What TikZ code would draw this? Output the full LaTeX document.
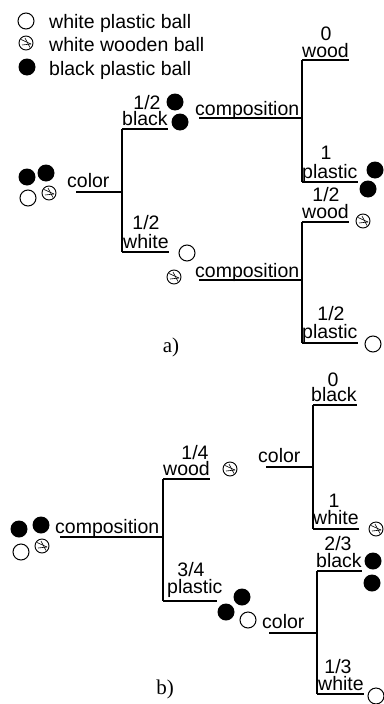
\documentclass[tikz,border=0pt]{standalone}
\usepackage{fontspec}
\setmainfont{Liberation Sans}
\newfontfamily\serifface{Liberation Serif}
\begin{document}
\begin{tikzpicture}[x=1pt,y=-1pt,
  lbl/.style={inner sep=0pt, font=\fontsize{19.5}{20}\selectfont},
  captxt/.style={inner sep=0pt, font=\serifface\fontsize{21}{22}\selectfont},
  br/.style={line width=1.2pt},
  bb/.style={circle, fill=black, minimum size=17pt, inner sep=0pt},
  wb/.style={circle, draw, line width=1pt, fill=white, minimum size=16pt, inner sep=0pt},
  wd/.style={circle, draw, line width=0.9pt, fill=white, minimum size=14pt, inner sep=0pt,
    path picture={
      \draw[line width=0.6pt] ([shift={(-5pt,3.5pt)}]path picture bounding box.center) -- ([shift={(5pt,-1pt)}]path picture bounding box.center);
      \draw[line width=0.6pt] ([shift={(-4pt,-2pt)}]path picture bounding box.center) -- ([shift={(5pt,-1pt)}]path picture bounding box.center);
      \draw[line width=0.6pt] ([shift={(-1pt,5pt)}]path picture bounding box.center) -- ([shift={(4pt,-4.5pt)}]path picture bounding box.center);
    }}
]
\useasboundingbox (0,0) rectangle (383,704);

% legend
\node[wb] (lw) at (26,21) {};
\node[lbl,anchor=base west] (lwt) at (49,28) {white plastic ball};
\node[wd] (ld) at (26,43) {};
\node[lbl,anchor=base west] (ldt) at (49,51) {white wooden ball};
\node[bb] (lb) at (27,67) {};
\node[lbl,anchor=base west] (lbt) at (49,75) {black plastic ball};

% ---------------- part a ----------------
\node[bb] (ra1) at (27,177) {};
\node[bb] (ra2) at (46,173) {};
\node[wb] (ra3) at (28,198) {};
\node[wd] (ra4) at (49,193) {};
\node[lbl,anchor=base west] (colA) at (67,187) {color};
\coordinate (colAs) at (76,192);
\coordinate (jA) at (122,192);
\coordinate (jAt) at (122,129);
\coordinate (jAb) at (122,252);
\draw[br] (colAs) -- (jA);
\draw[br] (jAt) -- (jAb);

\node[lbl,anchor=base west] (blkA) at (122,125) {black};
\node[lbl,anchor=base] (pblkA) at (147,109) {1/2};
\draw[br] (jAt) -- (jAt -| blkA.east);
\node[bb] (bA1) at (175,102) {};
\node[bb] (bA2) at (180,122) {};

\node[lbl,anchor=base west] (whA) at (123,248) {white};
\node[lbl,anchor=base] (pwhA) at (146,229) {1/2};
\draw[br] (jAb) -- (jAb -| whA.east);
\node[wb] (wA1) at (187,253) {};
\node[wd] (wA2) at (174,277) {};

% upper composition
\node[lbl,anchor=base west] (cmpA1) at (195,115) {composition};
\coordinate (cmpA1s) at (199,118);
\coordinate (jB) at (302,118);
\coordinate (jBt) at (302,60);
\coordinate (jBb) at (302,182);
\draw[br] (cmpA1s) -- (jB);
\draw[br] (jBt) -- (jBb);
\node[lbl,anchor=base west] (wdB) at (302,57) {wood};
\node[lbl,anchor=base] (pwdB) at (326,40) {0};
\draw[br] (jBt) -- (jBt -| wdB.east);
\node[lbl,anchor=base west] (plB) at (302,178) {plastic};
\node[lbl,anchor=base] (pplB) at (326,159) {1};
\draw[br] (jBb) -- (jBb -| plB.east);
\node[bb] (bB1) at (375,170) {};
\node[bb] (bB2) at (368,189) {};

% lower composition
\node[lbl,anchor=base west] (cmpA2) at (195,277) {composition};
\coordinate (cmpA2s) at (199,280);
\coordinate (jC) at (302,280);
\coordinate (jCt) at (302,222);
\coordinate (jCb) at (302,343);
\draw[br] (cmpA2s) -- (jC);
\draw[br] (jCt) -- (jCb);
\node[lbl,anchor=base west] (wdC) at (302,218) {wood};
\node[lbl,anchor=base] (pwdC) at (326,201) {1/2};
\draw[br] (jCt) -- (jCt -| wdC.east);
\node[wd] (dC) at (363,221) {};
\node[lbl,anchor=base west] (plC) at (302,338) {plastic};
\node[lbl,anchor=base] (pplC) at (331,320) {1/2};
\draw[br] (jCb) -- (jCb -| plC.east);
\node[wb] (wC) at (373,344) {};

\node[captxt,anchor=base] (capA) at (171,352) {a)};

% ---------------- part b ----------------
\node[bb] (rb1) at (19,529) {};
\node[bb] (rb2) at (41,525) {};
\node[wb] (rb3) at (21,552) {};
\node[wd] (rb4) at (42,546) {};
\node[lbl,anchor=base west] (cmpB) at (55,533) {composition};
\coordinate (cmpBs) at (60,537);
\coordinate (jD) at (163,537);
\coordinate (jDt) at (163,479);
\coordinate (jDb) at (163,601);
\draw[br] (cmpBs) -- (jD);
\draw[br] (jDt) -- (jDb);

\node[lbl,anchor=base west] (wdD) at (163,475) {wood};
\node[lbl,anchor=base] (pwdD) at (195,459) {1/4};
\draw[br] (jDt) -- (jDt -| wdD.east);
\node[wd] (dD) at (230,469) {};

\node[lbl,anchor=base west] (plD) at (167,593) {plastic};
\node[lbl,anchor=base] (pplD) at (191,576) {3/4};
\coordinate (plDe) at (217,601);
\draw[br] (jDb) -- (plDe);
\node[bb] (bD1) at (242,597) {};
\node[bb] (bD2) at (226,612) {};
\node[wb] (wD) at (248,620) {};

% upper color
\node[lbl,anchor=base west] (colE) at (258,462) {color};
\coordinate (colEs) at (266,467);
\coordinate (jE) at (313,467);
\coordinate (jEt) at (313,405);
\coordinate (jEb) at (313,529);
\draw[br] (colEs) -- (jE);
\draw[br] (jEt) -- (jEb);
\node[lbl,anchor=base west] (blkE) at (311,401) {black};
\node[lbl,anchor=base] (pblkE) at (333,386) {0};
\draw[br] (jEt) -- (jEt -| blkE.east);
\node[lbl,anchor=base west] (whE) at (313,524) {white};
\node[lbl,anchor=base] (pwhE) at (334,507) {1};
\draw[br] (jEb) -- (jEb -| whE.east);
\node[wd] (dE) at (376,529) {};

% lower color
\node[lbl,anchor=base west] (colF) at (262,628) {color};
\coordinate (colFs) at (269,633);
\coordinate (jF) at (317,633);
\coordinate (jFt) at (317,571);
\coordinate (jFb) at (317,694);
\draw[br] (colFs) -- (jF);
\draw[br] (jFt) -- (jFb);
\node[lbl,anchor=base west] (blkF) at (316,567) {black};
\node[lbl,anchor=base] (pblkF) at (338,550) {2/3};
\draw[br] (jFt) -- (jFt -| blkF.east);
\node[bb] (bF1) at (373,561) {};
\node[bb] (bF2) at (372,583) {};
\node[lbl,anchor=base west] (whF) at (318,690) {white};
\node[lbl,anchor=base] (pwhF) at (338,673) {1/3};
\draw[br] (jFb) -- (jFb -| whF.east);
\node[wb] (wF) at (376,696) {};

\node[captxt,anchor=base] (capB) at (165,694) {b)};
\end{tikzpicture}
\end{document}
